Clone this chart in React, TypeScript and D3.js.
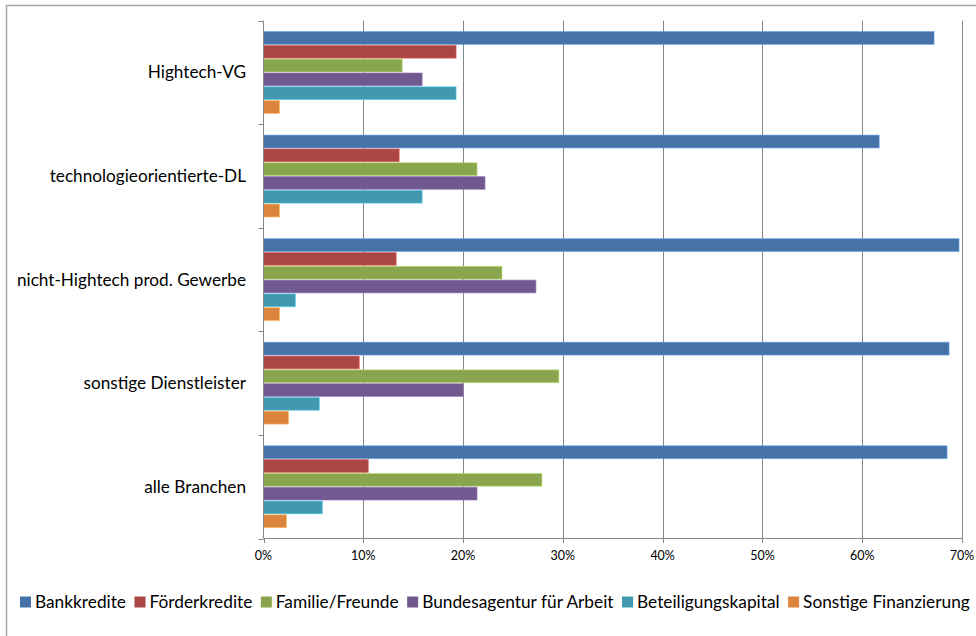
import React, { useEffect, useRef } from 'react';
import * as d3 from 'd3';

// categories top to bottom
const categories = [
  'Hightech-VG',
  'technologieorientierte-DL',
  'nicht-Hightech prod. Gewerbe',
  'sonstige Dienstleister',
  'alle Branchen'
];

const seriesNames = [
  'Bankkredite',
  'Förderkredite',
  'Familie/Freunde',
  'Bundesagentur für Arbeit',
  'Beteiligungskapital',
  'Sonstige Finanzierung'
];

const seriesColors = ['#4572A7', '#AA4643', '#89A54E', '#71588F', '#4198AF', '#DB843D'];

// values in percent, one array per series, in category order
const bankkredite = [67.2, 61.7, 69.7, 68.7, 68.5];
const foerderkredite = [19.3, 13.6, 13.3, 9.6, 10.5];
const familieFreunde = [13.9, 21.4, 23.9, 29.6, 27.9];
const bundesagentur = [15.9, 22.2, 27.3, 20.0, 21.4];
const beteiligung = [19.3, 15.9, 3.2, 5.6, 5.9];
const sonstige = [1.6, 1.6, 1.6, 2.5, 2.3];

const seriesValues = [bankkredite, foerderkredite, familieFreunde, bundesagentur, beteiligung, sonstige];

const xTicks = [0, 10, 20, 30, 40, 50, 60, 70];

const FONT = 'Lato, "Open Sans", sans-serif';

const App = () => {
  const ref = useRef<SVGSVGElement>(null);

  useEffect(() => {
    const svg = d3.select(ref.current!);
    svg.selectAll('*').remove();

    const plot = { left: 263.5, right: 962, top: 20.7, bottom: 538.5 };

    // outer chart frame
    svg
      .append('rect')
      .attr('x', 6.5)
      .attr('y', 5.5)
      .attr('width', 1000)
      .attr('height', 700)
      .attr('fill', '#fff')
      .attr('stroke', '#a6a6a6')
      .attr('stroke-width', 1.5);

    const x = d3.scaleLinear().domain([0, 70]).range([plot.left, plot.right]);

    const y = d3
      .scaleBand()
      .domain(categories)
      .range([plot.top, plot.bottom])
      .paddingInner(0.2)
      .paddingOuter(0.1);

    const yInner = d3
      .scaleBand()
      .domain(seriesNames)
      .range([0, y.bandwidth()])
      .padding(0);

    // vertical gridlines
    svg
      .append('g')
      .selectAll('line')
      .data(xTicks.slice(1))
      .join('line')
      .attr('x1', d => Math.round(x(d)) + 0.5)
      .attr('x2', d => Math.round(x(d)) + 0.5)
      .attr('y1', plot.top)
      .attr('y2', plot.bottom)
      .attr('stroke', '#868686')
      .attr('stroke-width', 1);

    // bars
    const groups = svg
      .append('g')
      .selectAll('g')
      .data(categories)
      .join('g')
      .attr('transform', c => `translate(0, ${y(c)})`);

    groups
      .selectAll('rect')
      .data((c, ci) => seriesNames.map((s, si) => ({ s, si, v: seriesValues[si][ci] })))
      .join('rect')
      .attr('x', x(0))
      .attr('y', d => yInner(d.s)! + 0.5)
      .attr('width', d => x(d.v) - x(0))
      .attr('height', yInner.bandwidth() - 1)
      .attr('fill', d => seriesColors[d.si])
      .attr('stroke', d => d3.color(seriesColors[d.si])!.brighter(0.9).formatHex())
      .attr('stroke-width', 1)
      .attr('stroke-opacity', 0.6);

    // y axis line + ticks at category boundaries
    const axisColor = '#868686';
    svg
      .append('line')
      .attr('x1', plot.left)
      .attr('x2', plot.left)
      .attr('y1', plot.top)
      .attr('y2', plot.bottom)
      .attr('stroke', axisColor);

    const boundaries = d3
      .range(categories.length + 1)
      .map(i => plot.top + (i * (plot.bottom - plot.top)) / categories.length);
    svg
      .append('g')
      .selectAll('line')
      .data(boundaries)
      .join('line')
      .attr('x1', plot.left - 5)
      .attr('x2', plot.left)
      .attr('y1', d => Math.round(d) + 0.5)
      .attr('y2', d => Math.round(d) + 0.5)
      .attr('stroke', axisColor);

    // category labels
    svg
      .append('g')
      .selectAll('text')
      .data(categories)
      .join('text')
      .attr('x', plot.left - 17.5)
      .attr('y', c => y(c)! + y.bandwidth() / 2 + 6)
      .attr('text-anchor', 'end')
      .attr('font-family', FONT)
      .attr('font-size', 17.2)
      .attr('fill', '#000')
      .text(c => c);

    // x axis line + ticks
    svg
      .append('line')
      .attr('x1', plot.left)
      .attr('x2', plot.right)
      .attr('y1', plot.bottom)
      .attr('y2', plot.bottom)
      .attr('stroke', axisColor);

    svg
      .append('g')
      .selectAll('line')
      .data(xTicks)
      .join('line')
      .attr('x1', d => Math.round(x(d)) + 0.5)
      .attr('x2', d => Math.round(x(d)) + 0.5)
      .attr('y1', plot.bottom)
      .attr('y2', plot.bottom + 4.5)
      .attr('stroke', axisColor);

    svg
      .append('g')
      .selectAll('text')
      .data(xTicks)
      .join('text')
      .attr('x', d => x(d))
      .attr('y', 560)
      .attr('text-anchor', 'middle')
      .attr('font-family', FONT)
      .attr('font-size', 12.5)
      .attr('fill', '#000')
      .text(d => `${d}%`);

    // legend, laid out left to right
    const legend = svg.append('g');
    let lx = 20;
    seriesNames.forEach((name, i) => {
      legend
        .append('rect')
        .attr('x', lx)
        .attr('y', 596.5)
        .attr('width', 11)
        .attr('height', 11)
        .attr('fill', seriesColors[i]);
      const t = legend
        .append('text')
        .attr('x', lx + 15)
        .attr('y', 607.7)
        .attr('font-family', FONT)
        .attr('font-size', 17.3)
        .attr('fill', '#000')
        .text(name);
      const w = (t.node() as SVGTextElement).getComputedTextLength();
      lx += 15 + w + 8.5;
    });
  }, []);

  return (
    <svg
      ref={ref}
      width={976}
      height={636}
      style={{ position: 'absolute', left: 0, top: 0, background: '#fff' }}
    />
  );
};

export default App;
